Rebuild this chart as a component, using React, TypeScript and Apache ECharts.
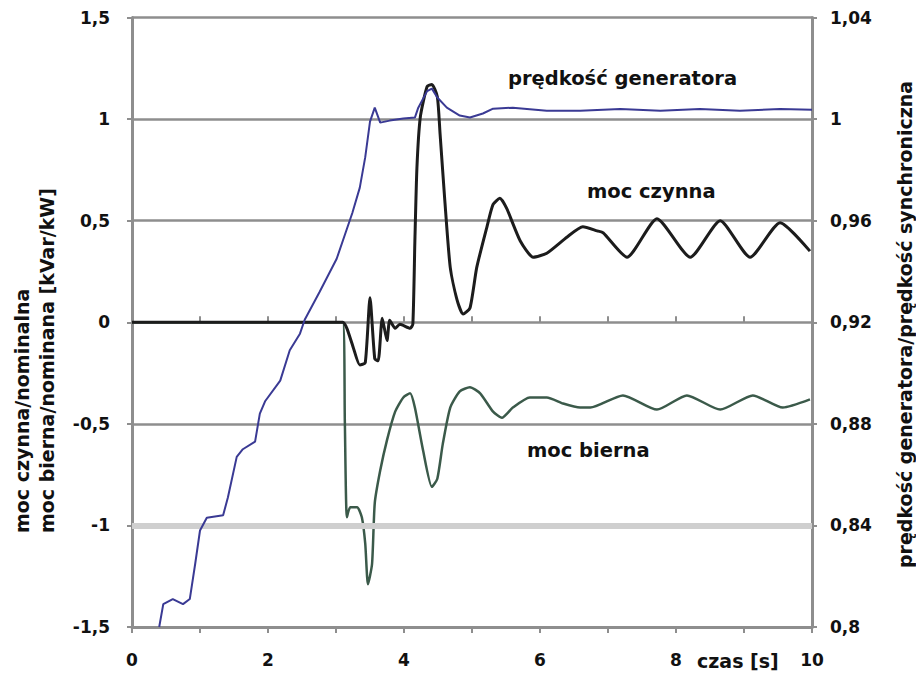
import React, { useEffect, useRef } from "react";
import * as echarts from "echarts";

// time [s]
const speedT = [0.40, 0.46, 0.60, 0.75, 0.85, 0.93, 1.00, 1.10, 1.34, 1.41, 1.54, 1.63, 1.81, 1.88, 1.96, 2.18, 2.32, 2.47, 2.54, 2.76, 3.01, 3.24, 3.35, 3.43, 3.50, 3.57, 3.65, 3.79, 3.99, 4.16, 4.21, 4.34, 4.41, 4.49, 4.63, 4.82, 4.97, 5.16, 5.31, 5.60, 6.10, 6.59, 7.18, 7.77, 8.35, 8.94, 9.53, 10.0];
// prędkość generatora / prędkość synchroniczna
const speedV = [0.800, 0.809, 0.811, 0.809, 0.811, 0.825, 0.838, 0.843, 0.844, 0.851, 0.867, 0.870, 0.873, 0.884, 0.889, 0.897, 0.909, 0.9155, 0.921, 0.932, 0.945, 0.963, 0.973, 0.985, 0.999, 1.0045, 0.9986, 0.9994, 1.0002, 1.0006, 1.0045, 1.011, 1.012, 1.0085, 1.0045, 1.0014, 1.0006, 1.0022, 1.0041, 1.0045, 1.0033, 1.0033, 1.004, 1.0033, 1.004, 1.0033, 1.004, 1.0037];

// moc czynna
const activeT = [0, 3.10, 3.16, 3.25, 3.35, 3.43, 3.50, 3.57, 3.62, 3.68, 3.75, 3.79, 3.87, 3.94, 4.09, 4.13, 4.16, 4.19, 4.24, 4.34, 4.41, 4.49, 4.53, 4.60, 4.68, 4.78, 4.87, 4.97, 5.07, 5.22, 5.31, 5.41, 5.51, 5.71, 5.90, 6.10, 6.40, 6.63, 6.84, 6.93, 7.28, 7.72, 8.21, 8.65, 9.09, 9.53, 9.97];
const activeV = [0, 0, -0.03, -0.12, -0.21, -0.20, 0.12, -0.18, -0.19, 0.02, -0.09, 0.01, -0.03, -0.01, -0.03, -0.01, 0.40, 0.76, 1.01, 1.16, 1.17, 1.11, 0.93, 0.60, 0.27, 0.11, 0.04, 0.07, 0.27, 0.47, 0.58, 0.61, 0.56, 0.40, 0.32, 0.34, 0.42, 0.47, 0.45, 0.44, 0.32, 0.51, 0.32, 0.50, 0.32, 0.49, 0.35];

// moc bierna
const reactiveT = [0, 3.10, 3.13, 3.16, 3.21, 3.31, 3.38, 3.43, 3.47, 3.53, 3.57, 3.65, 3.75, 3.87, 3.99, 4.09, 4.16, 4.28, 4.41, 4.49, 4.57, 4.68, 4.82, 4.97, 5.12, 5.31, 5.44, 5.60, 5.85, 6.10, 6.34, 6.59, 6.74, 7.22, 7.72, 8.16, 8.65, 9.13, 9.57, 9.97];
const reactiveV = [0, 0, -0.49, -0.96, -0.91, -0.91, -0.96, -1.09, -1.29, -1.19, -0.89, -0.73, -0.58, -0.44, -0.37, -0.35, -0.42, -0.63, -0.81, -0.77, -0.60, -0.42, -0.34, -0.32, -0.35, -0.44, -0.47, -0.42, -0.37, -0.37, -0.40, -0.42, -0.42, -0.36, -0.43, -0.36, -0.43, -0.36, -0.42, -0.38];

const highlightLevel = -1;

const FONT = "DejaVu Sans";
const GRAY = "#8e8e8e";

const zip = (a: number[], b: number[]) => a.map((t, i) => [t, b[i]]);
const comma = (v: number) => String(parseFloat(v.toFixed(2))).replace(".", ",");

export default function App() {
  const ref = useRef<HTMLDivElement>(null);
  useEffect(() => {
    if (!ref.current) return;
    const chart = echarts.init(ref.current, undefined, { renderer: "svg" });
    const labelStyle = { fontFamily: FONT, fontWeight: "bold" as const, fontSize: 17, color: "#111" };
    chart.setOption({
      animation: false,
      backgroundColor: "#ffffff",
      grid: { left: 132, right: 104, top: 17.5, bottom: 48 },
      xAxis: [
        {
          type: "value",
          min: 0,
          max: 10,
          interval: 1,
          axisLine: { show: true, onZero: false, lineStyle: { color: GRAY, width: 3 } },
          axisTick: { show: true, length: 6, lineStyle: { color: GRAY, width: 2 } },
          axisLabel: {
            ...labelStyle,
            margin: 24,
            formatter: (v: number) => (v % 2 === 0 ? String(v) : ""),
          },
          splitLine: { show: false },
        },
        {
          type: "value",
          position: "bottom",
          min: 0,
          max: 10,
          interval: 1,
          axisLine: { show: false },
          axisTick: { show: true, inside: true, length: 6, lineStyle: { color: GRAY, width: 2 } },
          axisLabel: { show: false },
          splitLine: { show: false },
        },
      ],
      yAxis: [
        {
          type: "value",
          min: -1.5,
          max: 1.5,
          interval: 0.5,
          axisLine: { show: true, onZero: false, lineStyle: { color: GRAY, width: 3 } },
          axisTick: { show: true, length: 5, lineStyle: { color: GRAY, width: 2 } },
          axisLabel: { ...labelStyle, margin: 22, formatter: (v: number) => comma(v) },
          splitLine: { show: true, lineStyle: { color: GRAY, width: 2.5 } },
        },
        {
          type: "value",
          min: 0.8,
          max: 1.04,
          interval: 0.04,
          position: "right",
          axisLine: { show: true, onZero: false, lineStyle: { color: GRAY, width: 3 } },
          axisTick: { show: true, length: 5, lineStyle: { color: GRAY, width: 2 } },
          axisLabel: { ...labelStyle, margin: 18, formatter: (v: number) => comma(v) },
          splitLine: { show: false },
        },
      ],
      series: [
        {
          type: "line",
          name: "band",
          data: [],
          z: 1,
          silent: true,
          markLine: {
            silent: true,
            symbol: "none",
            label: { show: false },
            lineStyle: { color: "#cfcfcf", width: 6, type: "solid" },
            data: [{ yAxis: highlightLevel }],
          },
        },
        {
          type: "line",
          name: "moc bierna",
          data: zip(reactiveT, reactiveV),
          showSymbol: false,
          smooth: 0.2,
          z: 3,
          lineStyle: { color: "#3b5a4a", width: 2.5 },
        },
        {
          type: "line",
          name: "moc czynna",
          data: zip(activeT, activeV),
          showSymbol: false,
          smooth: 0.2,
          z: 4,
          lineStyle: { color: "#1c1c1c", width: 3 },
        },
        {
          type: "line",
          name: "prędkość generatora",
          yAxisIndex: 1,
          data: zip(speedT, speedV),
          showSymbol: false,
          z: 5,
          lineStyle: { color: "#3a3a94", width: 2 },
        },
      ],
      graphic: [
        { type: "text", left: 508, top: 68, style: { text: "prędkość generatora", font: `bold 19.5px "${FONT}"`, fill: "#111" } },
        { type: "text", left: 587, top: 181, style: { text: "moc czynna", font: `bold 19.5px "${FONT}"`, fill: "#111" } },
        { type: "text", left: 527, top: 440, style: { text: "moc bierna", font: `bold 19.5px "${FONT}"`, fill: "#111" } },
        { type: "text", left: 697, top: 651, style: { text: "czas [s]", font: `bold 19px "${FONT}"`, fill: "#111" } },
        {
          type: "text", x: 22, y: 533, rotation: Math.PI / 2,
          style: { text: "moc czynna/nominalna", font: `bold 19px "${FONT}"`, fill: "#111", align: "left", verticalAlign: "middle" },
        },
        {
          type: "text", x: 47, y: 533, rotation: Math.PI / 2,
          style: { text: "moc bierna/nominana [kVar/kW]", font: `bold 19px "${FONT}"`, fill: "#111", align: "left", verticalAlign: "middle" },
        },
        {
          type: "text", x: 905, y: 568, rotation: Math.PI / 2,
          style: { text: "prędkość generatora/prędkość synchroniczna", font: `bold 19px "${FONT}"`, fill: "#111", align: "left", verticalAlign: "middle" },
        },
      ],
    });
    return () => chart.dispose();
  }, []);
  return (
    <div
      ref={ref}
      style={{ position: "fixed", left: 0, top: 0, width: 916, height: 675, background: "#fff" }}
    />
  );
}
